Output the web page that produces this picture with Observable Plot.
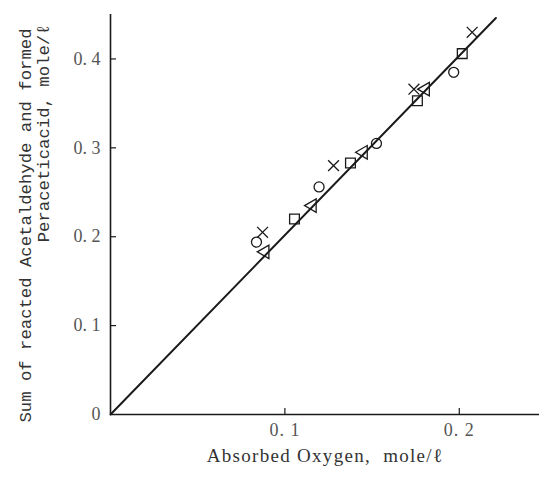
<!DOCTYPE html>
<html><head><meta charset="utf-8">
<script src="https://cdn.jsdelivr.net/npm/d3@7"></script>
<script src="https://cdn.jsdelivr.net/npm/@observablehq/plot@0.6"></script>
<style>body{margin:0;background:#fff}</style>
</head><body><div id="chart"></div>
<script>
// Data
const circleX   = [0.0837, 0.1196, 0.1525, 0.1968];
const circleY   = [0.194, 0.256, 0.305, 0.385];
const squareX   = [0.1055, 0.1376, 0.1760, 0.2017];
const squareY   = [0.220, 0.283, 0.353, 0.406];
const triangleX = [0.0886, 0.1157, 0.1450, 0.1806];
const triangleY = [0.183, 0.235, 0.295, 0.366];
const crossX    = [0.0872, 0.1279, 0.1740, 0.2074];
const crossY    = [0.205, 0.280, 0.366, 0.430];
const fitX      = [0, 0.221];
const fitY      = [0, 0.446];

const xTicks = [0.1, 0.2];
const xTickLabels = ["0. 1", "0. 2"];
const yTicks = [0, 0.1, 0.2, 0.3, 0.4];
const yTickLabels = ["0", "0. 1", "0. 2", "0. 3", "0. 4"];
const xTitle = "Absorbed Oxygen,\u00a0 mole/\u2113";
const yTitle1 = "Sum of reacted Acetaldehyde and formed";
const yTitle2 = "Peraceticacid, mole/\u2113";

const rows = (xs, ys) => xs.map((x, i) => ({x, y: ys[i]}));
const ink = "#1a1a1a";
const dotStyle = {x: "x", y: "y", fill: "none", stroke: ink, strokeWidth: 1.3};

const chart = Plot.plot({
  width: 539, height: 479,
  marginLeft: 110, marginRight: 0, marginTop: 14, marginBottom: 65,
  x: {domain: [0, 0.246]},
  y: {domain: [0, 0.45]},
  style: {fontFamily: "Liberation Serif", background: "white", color: ink},
  marks: [
    Plot.axisX({ticks: xTicks, tickSize: 0, tickPadding: 9, fontSize: 18, fill: "#555",
      tickFormat: d => xTickLabels[xTicks.indexOf(d)], label: null}),
    Plot.axisY({ticks: yTicks, tickSize: 0, tickPadding: 10, fontSize: 18, fill: "#555",
      tickFormat: d => yTickLabels[yTicks.indexOf(d)], label: null}),
    Plot.tickX(xTicks, {x: d => d, insetTop: 394, stroke: ink, strokeWidth: 1.2}),
    Plot.tickY(yTicks.slice(1), {y: d => d, insetRight: 423, stroke: ink, strokeWidth: 1.2}),
    Plot.ruleX([0], {stroke: ink, strokeWidth: 1.6}),
    Plot.ruleY([0], {stroke: ink, strokeWidth: 1.6}),
    Plot.line(rows(fitX, fitY), {x: "x", y: "y", stroke: ink, strokeWidth: 2}),
    Plot.dot(rows(circleX, circleY), {...dotStyle, symbol: "circle", r: 5}),
    Plot.dot(rows(squareX, squareY), {...dotStyle, symbol: "square", r: 5.5}),
    Plot.dot(rows(triangleX, triangleY), {...dotStyle, symbol: "triangle", r: 5, rotate: -90}),
    Plot.dot(rows(crossX, crossY), {...dotStyle, symbol: "times", r: 5}),
    Plot.text([xTitle], {text: d => d, frameAnchor: "bottom", dy: 47, fontSize: 19, fill: "#333",
      fontFamily: "Liberation Serif"}),
    Plot.text([yTitle1], {text: d => d, frameAnchor: "top-left", dx: -80, dy: 14, rotate: -90,
      textAnchor: "end", lineAnchor: "bottom", fontSize: 17.3, fill: "#333", fontFamily: "Liberation Mono"}),
    Plot.text([yTitle2], {text: d => d, frameAnchor: "top-left", dx: -62, dy: 10, rotate: -90,
      textAnchor: "end", lineAnchor: "bottom", fontSize: 17.3, fill: "#333", fontFamily: "Liberation Mono"})
  ]
});
d3.select(chart).selectAll("text").filter(function() { return this.textContent === xTitle; })
  .style("letter-spacing", "1.3px");
d3.select(chart).selectAll("g[aria-label='x-axis tick label'] text").style("letter-spacing", "1px");
document.getElementById("chart").append(chart);
</script>
</body></html>
